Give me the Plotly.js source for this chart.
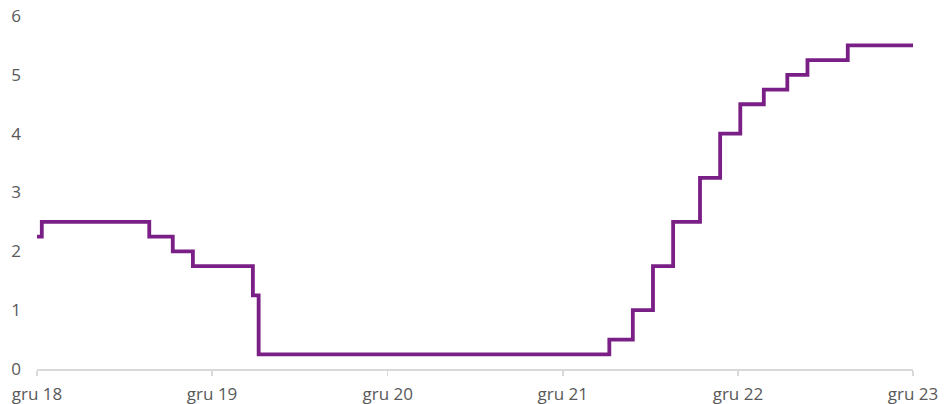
<!DOCTYPE html>
<html>
<head>
<meta charset="utf-8">
<script src="https://cdn.plot.ly/plotly-3.0.1.min.js"></script>
<style>html,body{margin:0;padding:0;background:#fff;}#chart{width:944px;height:404px;}</style>
</head>
<body>
<div id="chart"></div>
<script>
const dates = ["2018-12-10","2018-12-20","2019-08-01","2019-09-19","2019-10-31","2020-03-04","2020-03-16","2022-03-17","2022-05-05","2022-06-16","2022-07-28","2022-09-22","2022-11-03","2022-12-15","2023-02-02","2023-03-23","2023-05-04","2023-07-27","2023-12-10"];
const rates = [2.25,2.5,2.25,2.0,1.75,1.25,0.25,0.5,1.0,1.75,2.5,3.25,4.0,4.5,4.75,5.0,5.25,5.5,5.5];
const tickDates = ["2018-12-10","2019-12-10","2020-12-10","2021-12-10","2022-12-10","2023-12-10"];
const tickLabels = ["gru 18","gru 19","gru 20","gru 21","gru 22","gru 23"];
const yTicks = [0,1,2,3,4,5,6];

Plotly.newPlot("chart", [{
  x: dates, y: rates, type: "scatter", mode: "lines",
  line: {shape: "hv", color: "#7a1f86", width: 3.8},
  hoverinfo: "skip"
}], {
  width: 944, height: 404,
  margin: {l: 37, r: 31, t: 16, b: 35},
  paper_bgcolor: "#fff", plot_bgcolor: "#fff",
  showlegend: false,
  font: {family: "Open Sans, sans-serif", size: 17, color: "#595959"},
  xaxis: {
    type: "date", range: ["2018-12-10","2023-12-10"],
    tickvals: tickDates, ticktext: tickLabels,
    showgrid: false, zeroline: false,
    showline: true, linecolor: "#d9d9d9", linewidth: 1.5,
    ticks: "outside", ticklen: 5, tickcolor: "#d9d9d9", tickwidth: 1.5,
    ticklabelstandoff: 4,
    tickfont: {size: 17, color: "#595959"}
  },
  yaxis: {
    range: [0, 6], tickvals: yTicks,
    showgrid: false, zeroline: false, showline: false,
    ticks: "", ticklabelstandoff: 15,
    tickfont: {size: 17, color: "#595959"}
  }
}, {staticPlot: true});
</script>
</body>
</html>
